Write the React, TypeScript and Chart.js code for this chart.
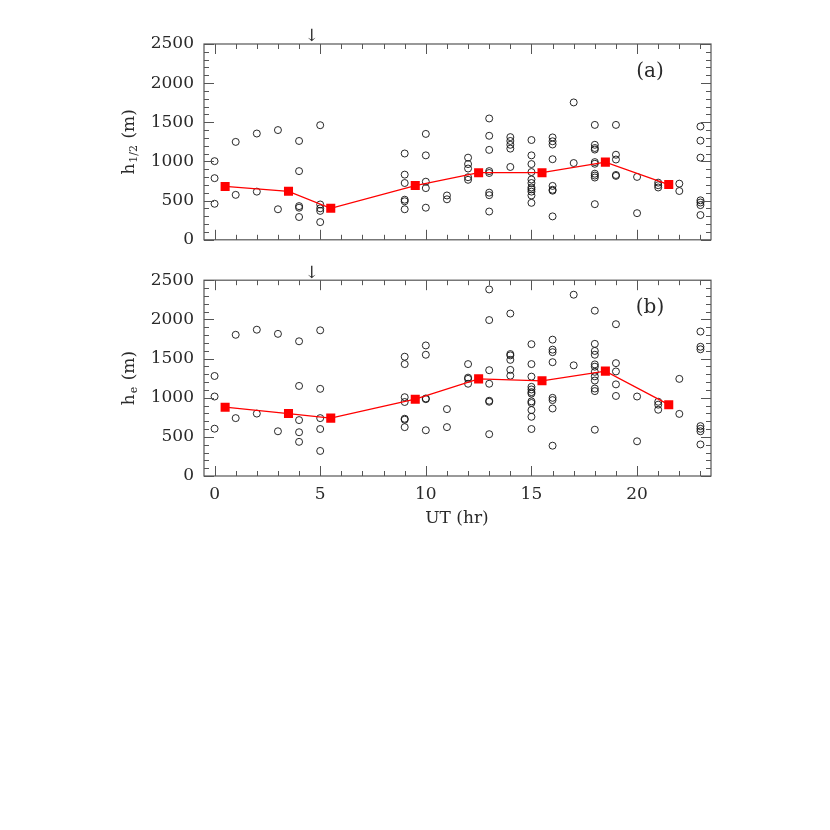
import React, { useEffect, useRef } from 'react';
import { Chart, registerables } from 'chart.js';

Chart.register(...registerables);

const FONT = '"DejaVu Serif", serif';

// Panel (a): h_1/2 individual points
const aHours = [
  0, 0, 0, 1, 1, 2, 2, 3, 3, 4, 4, 4, 4, 4, 5, 5, 5, 5, 5,
  9, 9, 9, 9, 9, 9, 10, 10, 10, 10, 10, 11, 11,
  12, 12, 12, 12, 12, 13, 13, 13, 13, 13, 13, 13, 13,
  14, 14, 14, 14, 14,
  15, 15, 15, 15, 15, 15, 15, 15, 15, 15, 15,
  16, 16, 16, 16, 16, 16, 16, 16, 17, 17,
  18, 18, 18, 18, 18, 18, 18, 18, 18, 18,
  19, 19, 19, 19, 19, 20, 20, 21, 21, 21, 22, 22,
  23, 23, 23, 23, 23, 23, 23,
];
const aValues = [
  1004, 787, 460, 1250, 574, 1357, 615, 1401, 390, 1262, 877, 430, 410, 291, 1463, 451, 402, 369, 226,
  1102, 832, 725, 512, 492, 390, 1352, 1078, 742, 660, 410, 566, 517,
  1049, 967, 910, 799, 766, 1549, 1328, 1148, 877, 853, 602, 570, 361,
  1311, 1262, 1213, 1164, 930,
  1274, 1078, 967, 865, 770, 725, 668, 644, 615, 566, 472,
  1307, 1258, 1217, 1029, 688, 639, 627, 299, 1754, 980,
  1467, 1213, 1172, 1152, 992, 971, 844, 820, 795, 455,
  1467, 1086, 1025, 828, 816, 803, 340, 730, 697, 668, 717, 623,
  1447, 1266, 1049, 504, 476, 443, 316,
];

// Panel (b): h_e individual points
const bHours = [
  0, 0, 0, 1, 1, 2, 2, 3, 3, 4, 4, 4, 4, 4, 5, 5, 5, 5, 5,
  9, 9, 9, 9, 9, 9, 9, 10, 10, 10, 10, 10, 11, 11,
  12, 12, 12, 12, 13, 13, 13, 13, 13, 13, 13,
  14, 14, 14, 14, 14, 14,
  15, 15, 15, 15, 15, 15, 15, 15, 15, 15, 15, 15,
  16, 16, 16, 16, 16, 16, 16, 16, 17, 17,
  18, 18, 18, 18, 18, 18, 18, 18, 18, 18, 18, 18,
  19, 19, 19, 19, 19, 20, 20, 21, 21, 21, 22, 22,
  23, 23, 23, 23, 23, 23, 23,
];
const bValues = [
  1277, 1015, 604, 1803, 739, 1868, 797, 1815, 571, 1720, 1150, 714, 559, 436, 1860, 1113, 739, 600, 320,
  1523, 1429, 1006, 945, 731, 719, 624, 1667, 1548, 990, 981, 584, 854, 624,
  1429, 1256, 1240, 1178, 2382, 1991, 1351, 1178, 961, 948, 534,
  2074, 1557, 1540, 1483, 1355, 1281,
  1683, 1429, 1269, 1138, 1105, 1071, 1052, 953, 932, 842, 756, 600,
  1741, 1613, 1581, 1453, 998, 969, 862, 387, 2315, 1413,
  2111, 1687, 1597, 1548, 1425, 1396, 1330, 1273, 1219, 1117, 1084, 591,
  1938, 1441, 1335, 1170, 1022, 1015, 443, 948, 911, 846, 1240, 793,
  1844, 1650, 1618, 637, 603, 571, 403,
];

// Binned means (red squares)
const meanHours = [0.5, 3.5, 5.5, 9.5, 12.5, 15.5, 18.5, 21.5];
const aMeans = [681, 619, 402, 693, 857, 857, 992, 705];
const bMeans = [879, 797, 739, 981, 1240, 1215, 1339, 911];

const xTicks = [0, 5, 10, 15, 20];
const yTicks = [0, 500, 1000, 1500, 2000, 2500];
const xMin = -0.5;
const xMax = 23.5;
const yMin = 0;
const yMax = 2500;
const arrowHour = 4.6;

type PanelOpts = {
  hours: number[];
  values: number[];
  means: number[];
  tag: string;
  titleMain: string;
  titleSub: string;
  showX: boolean;
  padding: { left: number; top: number; right: number; bottom: number };
  xHeight: number;
};

const TEXT = '#2a2a2a';

function makeConfig(o: PanelOpts): any {
  const framePlugin = {
    id: 'frame',
    afterDatasetsDraw(chart: any) {
      const { ctx, chartArea: a } = chart;
      const x = chart.scales.x;
      const y = chart.scales.y;
      ctx.save();
      ctx.strokeStyle = '#555';
      ctx.lineWidth = 1.2;
      ctx.strokeRect(a.left, a.top, a.right - a.left, a.bottom - a.top);
      ctx.beginPath();
      for (let h = Math.ceil(xMin); h <= Math.floor(xMax); h++) {
        const px = Math.round(x.getPixelForValue(h)) + 0.5;
        const L = h % 5 === 0 ? 10 : 5;
        ctx.moveTo(px, a.bottom);
        ctx.lineTo(px, a.bottom - L);
        ctx.moveTo(px, a.top);
        ctx.lineTo(px, a.top + L);
      }
      for (let v = yMin; v <= yMax; v += 100) {
        const py = Math.round(y.getPixelForValue(v)) + 0.5;
        const L = v % 500 === 0 ? 10 : 5;
        ctx.moveTo(a.left, py);
        ctx.lineTo(a.left + L, py);
        ctx.moveTo(a.right, py);
        ctx.lineTo(a.right - L, py);
      }
      ctx.lineWidth = 1;
      ctx.stroke();

      ctx.fillStyle = TEXT;
      // panel tag
      ctx.font = '20px ' + FONT;
      ctx.textAlign = 'center';
      ctx.textBaseline = 'middle';
      ctx.fillText(o.tag, a.right - 61, a.top + 28);
      // arrow
      ctx.font = '17px ' + FONT;
      ctx.fillText('\u2193', x.getPixelForValue(arrowHour), a.top - 7);
      // y title with subscript
      ctx.translate(128, (a.top + a.bottom) / 2);
      ctx.rotate(-Math.PI / 2);
      const mainFont = '17px ' + FONT;
      const subFont = '11px ' + FONT;
      ctx.font = mainFont;
      const wH = ctx.measureText(o.titleMain).width;
      ctx.font = subFont;
      const wS = ctx.measureText(o.titleSub).width;
      ctx.font = mainFont;
      const rest = ' (m)';
      const wR = ctx.measureText(rest).width;
      const total = wH + wS + 2 + wR;
      let cx = -total / 2;
      ctx.textAlign = 'left';
      ctx.textBaseline = 'alphabetic';
      ctx.fillText(o.titleMain, cx, 6);
      cx += wH + 1;
      ctx.font = subFont;
      ctx.fillText(o.titleSub, cx, 9);
      cx += wS + 1;
      ctx.font = mainFont;
      ctx.fillText(rest, cx, 6);
      ctx.restore();

      if (o.showX) {
        ctx.save();
        ctx.fillStyle = TEXT;
        ctx.font = '17px ' + FONT;
        ctx.textAlign = 'center';
        ctx.textBaseline = 'middle';
        ctx.fillText('UT (hr)', (a.left + a.right) / 2 - 0.5, a.bottom + 43);
        ctx.restore();
      }
    },
  };

  return {
    type: 'scatter',
    data: {
      datasets: [
        {
          data: meanHours.map((h, i) => ({ x: h, y: o.means[i] })),
          showLine: true,
          borderColor: '#ff0000',
          borderWidth: 1.3,
          backgroundColor: '#ff0000',
          pointStyle: 'rect',
          pointRadius: 6.4,
          pointBorderWidth: 0,
          order: 0,
        },
        {
          data: o.hours.map((h, i) => ({ x: h, y: o.values[i] })),
          showLine: false,
          borderColor: '#111',
          backgroundColor: 'rgba(0,0,0,0)',
          pointStyle: 'circle',
          pointRadius: 3.5,
          pointBorderWidth: 0.9,
          order: 1,
        },
      ],
    },
    options: {
      responsive: false,
      animation: false,
      layout: { padding: o.padding },
      plugins: {
        legend: { display: false },
        tooltip: { enabled: false },
        title: { display: false },
      },
      scales: {
        x: {
          type: 'linear',
          min: xMin,
          max: xMax,
          grid: { display: false, drawTicks: false },
          border: { display: false },
          ticks: {
            display: o.showX,
            font: { family: FONT, size: 17 },
            color: TEXT,
            padding: 8,
            maxRotation: 0,
            callback: (v: any) => String(v),
          },
          afterBuildTicks: (s: any) => {
            s.ticks = xTicks.map((v) => ({ value: v }));
          },
          afterFit: (s: any) => {
            s.height = o.xHeight;
          },
        },
        y: {
          type: 'linear',
          min: yMin,
          max: yMax,
          grid: { display: false, drawTicks: false },
          border: { display: false },
          ticks: {
            font: { family: FONT, size: 17 },
            color: TEXT,
            padding: 10,
            callback: (v: any) => String(v),
          },
          afterBuildTicks: (s: any) => {
            s.ticks = yTicks.map((v) => ({ value: v }));
          },
          afterFit: (s: any) => {
            s.width = 100;
          },
        },
      },
    },
    plugins: [framePlugin],
  };
}

export default function App() {
  const topRef = useRef<HTMLCanvasElement | null>(null);
  const botRef = useRef<HTMLCanvasElement | null>(null);

  useEffect(() => {
    const c1 = new Chart(
      topRef.current as HTMLCanvasElement,
      makeConfig({
        hours: aHours,
        values: aValues,
        means: aMeans,
        tag: '(a)',
        titleMain: 'h',
        titleSub: '1/2',
        showX: false,
        padding: { left: 104, top: 44, right: 119, bottom: 0 },
        xHeight: 12,
      })
    );
    const c2 = new Chart(
      botRef.current as HTMLCanvasElement,
      makeConfig({
        hours: bHours,
        values: bValues,
        means: bMeans,
        tag: '(b)',
        titleMain: 'h',
        titleSub: 'e',
        showX: true,
        padding: { left: 104, top: 13, right: 119, bottom: 14 },
        xHeight: 60,
      })
    );
    return () => {
      c1.destroy();
      c2.destroy();
    };
  }, []);

  return (
    <div style={{ position: 'fixed', left: 0, top: 0, width: 830, height: 830, background: '#fff' }}>
      <canvas
        ref={topRef}
        width={830}
        height={260}
        style={{ position: 'absolute', left: 0, top: 0, width: 830, height: 260 }}
      />
      <canvas
        ref={botRef}
        width={830}
        height={290}
        style={{ position: 'absolute', left: 0, top: 260, width: 830, height: 290 }}
      />
    </div>
  );
}
